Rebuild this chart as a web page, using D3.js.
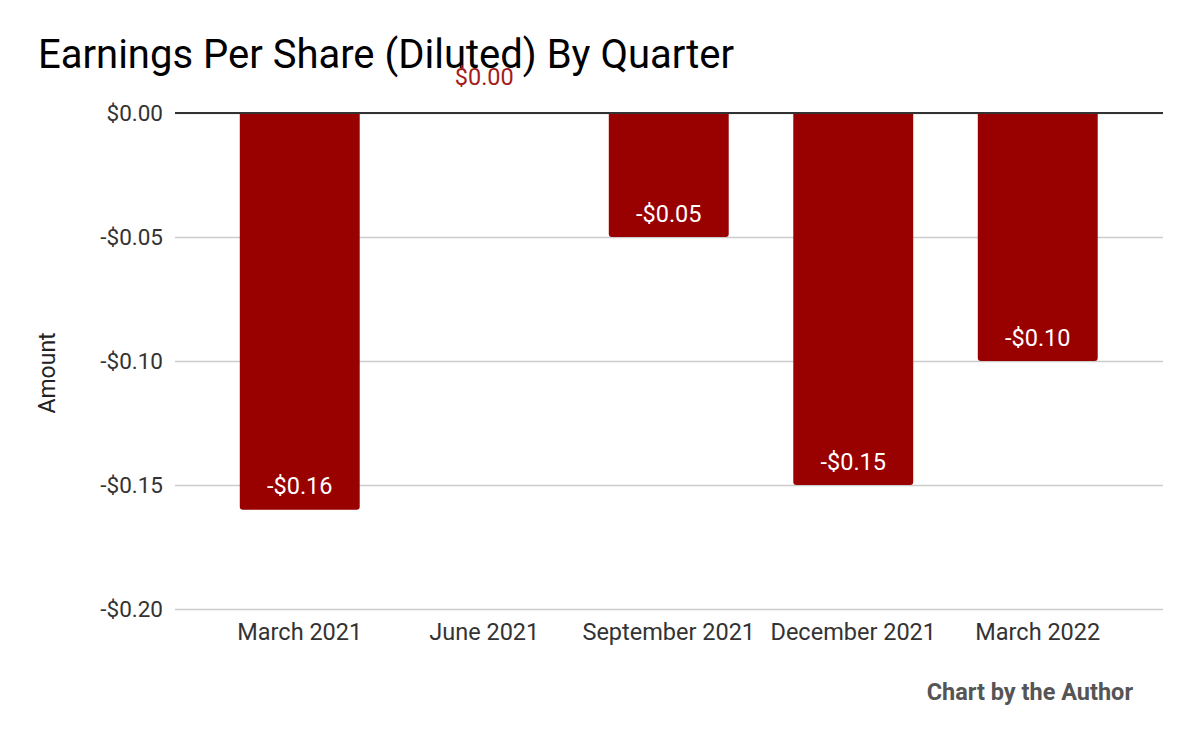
<!DOCTYPE html>
<html><head><meta charset="utf-8">
<script src="https://cdn.jsdelivr.net/npm/d3@7"></script>
<style>body{margin:0;background:#fff}svg{display:block}</style>
</head><body><svg id="c" width="1200" height="742"></svg>
<script>
const categories = ["March 2021","June 2021","September 2021","December 2021","March 2022"];
const eps = [-0.16, 0.00, -0.05, -0.15, -0.10];
const yTicks = [0, -0.05, -0.10, -0.15, -0.20];

const svg = d3.select("#c");
const W = 1200, H = 742;
const plotL = 175, plotR = 1163;
const x = d3.scaleBand().domain(categories).range([207.5, 1130]).paddingInner(0.35).paddingOuter(0.175);
const y = d3.scaleLinear().domain([-0.20, 0]).range([609, 113]);
const fmt = v => (v < 0 ? "-$" : "$") + Math.abs(v).toFixed(2);

svg.append("rect").attr("width", W).attr("height", H).attr("fill", "#fff");

// title
svg.append("text").attr("x", 38).attr("y", 68).attr("font-family", "Roboto").attr("font-size", 40)
  .attr("fill", "#000").text("Earnings Per Share (Diluted) By Quarter");

// gridlines
const yAxis = d3.axisLeft(y).tickValues(yTicks).tickFormat(fmt).tickSize(-(plotR - plotL)).tickPadding(12);
const ga = svg.append("g").attr("transform", `translate(${plotL},0)`).call(yAxis);
ga.select(".domain").remove();
ga.selectAll(".tick line").attr("stroke", "#ccc").attr("stroke-width", 1.5);
ga.selectAll(".tick text").attr("font-family", "Roboto").attr("font-size", 22.5).attr("fill", "#333").attr("dy", "0.35em");

// bars with rounded bottom corners
const r = 3;
svg.append("g").selectAll("path").data(eps.map((v, i) => ({v, c: categories[i]})).filter(d => d.v < 0))
  .join("path")
  .attr("fill", "#990000")
  .attr("d", d => {
    const x0 = x(d.c), x1 = x0 + x.bandwidth(), y0 = y(0), y1 = y(d.v);
    return `M${x0},${y0}H${x1}V${y1 - r}Q${x1},${y1} ${x1 - r},${y1}H${x0 + r}Q${x0},${y1} ${x0},${y1 - r}Z`;
  });

// zero line
svg.append("line").attr("x1", plotL).attr("x2", plotR).attr("y1", y(0)).attr("y2", y(0))
  .attr("stroke", "#333").attr("stroke-width", 2);

// value labels
svg.append("g").selectAll("text").data(eps.map((v, i) => ({v, c: categories[i]})))
  .join("text")
  .attr("x", d => x(d.c) + x.bandwidth() / 2)
  .attr("y", d => d.v < 0 ? y(d.v) - 15.5 : y(0) - 28)
  .attr("text-anchor", "middle").attr("font-family", "Roboto").attr("font-size", 23.5)
  .attr("fill", d => d.v < 0 ? "#fff" : "#a61c1c")
  .text(d => fmt(d.v));

// x axis labels
const xAxis = d3.axisBottom(x).tickSize(0).tickPadding(0);
const gx = svg.append("g").attr("transform", `translate(0,640)`).call(xAxis);
gx.select(".domain").remove();
gx.selectAll(".tick text").attr("font-family", "Roboto").attr("font-size", 23.5).attr("fill", "#333").attr("dy", 0).attr("y", 0);

// y axis title
svg.append("text").attr("transform", "translate(55,373) rotate(-90)").attr("text-anchor", "middle")
  .attr("font-family", "Roboto").attr("font-size", 23).attr("fill", "#222").text("Amount");

// credit
svg.append("text").attr("x", 1133).attr("y", 700).attr("text-anchor", "end").attr("font-family", "Roboto")
  .attr("font-weight", "bold").attr("font-size", 23.5).attr("fill", "#555").text("Chart by the Author");
</script></body></html>
